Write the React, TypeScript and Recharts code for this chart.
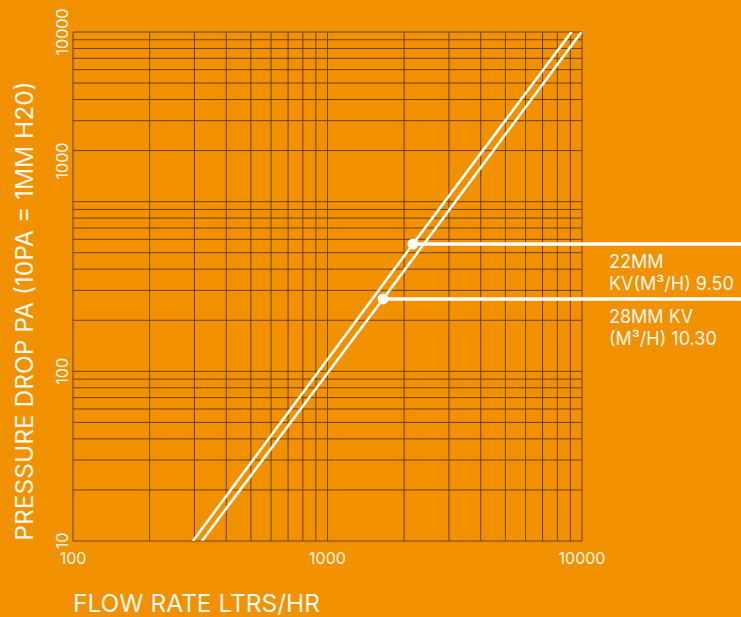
import React from 'react';
import {
  LineChart,
  Line,
  XAxis,
  YAxis,
  CartesianGrid,
  ReferenceDot,
  ReferenceLine,
} from 'recharts';

// ---- data (flow rate L/h vs pressure drop Pa) ----
const flow22 = [296, 2168, 9094];
const drop22 = [10, 563, 10000];
const flow28 = [321, 1653, 9955];
const drop28 = [10, 267, 10000];

const marker22 = { flow: 2168, drop: 563 };
const marker28 = { flow: 1653, drop: 267 };
const calloutEndFlow = 50000;

const label22 = ['22MM', 'KV(M³/H) 9.50'];
const label28 = ['28MM KV', '(M³/H) 10.30'];

const xTicks = [100, 1000, 10000];
const xTickLabels = ['100', '1000', '10000'];
// positions where the reference prints its y labels
const yTicks = [10, 100, 1737, 10000];
const yTickLabels = ['10', '100', '1000', '10000'];

const xGrid = [
  100, 200, 300, 400, 500, 600, 700, 800, 900,
  1000, 2000, 3000, 4000, 5000, 6000, 7000, 8000, 9000, 10000,
];
const yGrid = [
  10, 20, 30, 40, 50, 60, 70, 80, 90,
  100, 200, 300, 400, 500, 600, 700, 800, 900,
  1000, 2000, 3000, 4000, 5000, 6000, 7000, 8000, 9000, 10000,
];

const xTitle = 'FLOW RATE LTRS/HR';
const yTitle = 'PRESSURE DROP PA (10PA = 1MM H20)';

const series22 = flow22.map((f, i) => ({ flow: f, drop: drop22[i] }));
const series28 = flow28.map((f, i) => ({ flow: f, drop: drop28[i] }));

const BG = '#F29100';
const TEXT = '#FFF8EC';
const GRID = '#6a4100';
const FONT = 'Inter, Roboto, "Noto Sans", sans-serif';

const XTick = (props: any) => {
  const { x, y, payload } = props;
  const idx = xTicks.indexOf(payload.value);
  return (
    <text x={x} y={y + 23} textAnchor="middle" fill={TEXT} fontSize={16} fontFamily={FONT}>
      {idx >= 0 ? xTickLabels[idx] : payload.value}
    </text>
  );
};

const YTick = (props: any) => {
  const { x, y, payload } = props;
  const idx = yTicks.indexOf(payload.value);
  return (
    <text
      x={x}
      y={y}
      transform={`rotate(-90 ${x} ${y})`}
      textAnchor="middle"
      fill={TEXT}
      fontSize={16}
      fontFamily={FONT}
    >
      {idx >= 0 ? yTickLabels[idx] : payload.value}
    </text>
  );
};

export default function App() {
  return (
    <div
      style={{
        position: 'absolute',
        left: 0,
        top: 0,
        width: 741,
        height: 617,
        background: BG,
        overflow: 'hidden',
      }}
    >
      <LineChart
        width={741}
        height={617}
        margin={{ top: 32, right: 159, bottom: 46, left: 33 }}
      >
        <CartesianGrid
          stroke={GRID}
          strokeWidth={1}
          horizontalValues={yGrid}
          verticalValues={xGrid}
        />
        <XAxis
          type="number"
          dataKey="flow"
          scale="log"
          domain={[100, 10000]}
          allowDataOverflow
          ticks={xTicks}
          tick={<XTick />}
          axisLine={false}
          tickLine={false}
          tickSize={0}
          tickMargin={0}
          height={30}
          interval={0}
        />
        <YAxis
          type="number"
          dataKey="drop"
          scale="log"
          domain={[10, 10000]}
          allowDataOverflow
          ticks={yTicks}
          tick={<YTick />}
          axisLine={false}
          tickLine={false}
          tickSize={0}
          tickMargin={5}
          width={40}
          interval={0}
        />
        <Line
          data={series22}
          dataKey="drop"
          stroke="#ffffff"
          strokeWidth={2.6}
          dot={false}
          isAnimationActive={false}
          type="linear"
        />
        <Line
          data={series28}
          dataKey="drop"
          stroke="#ffffff"
          strokeWidth={2.6}
          dot={false}
          isAnimationActive={false}
          type="linear"
        />
        <ReferenceLine
          segment={[
            { x: marker22.flow, y: marker22.drop },
            { x: calloutEndFlow, y: marker22.drop },
          ]}
          stroke="#ffffff"
          strokeWidth={3.5}
          ifOverflow="visible"
        />
        <ReferenceLine
          segment={[
            { x: marker28.flow, y: marker28.drop },
            { x: calloutEndFlow, y: marker28.drop },
          ]}
          stroke="#ffffff"
          strokeWidth={3.5}
          ifOverflow="visible"
        />
        <ReferenceDot
          x={marker22.flow}
          y={marker22.drop}
          r={5.5}
          fill="#ffffff"
          stroke="none"
          ifOverflow="visible"
        />
        <ReferenceDot
          x={marker28.flow}
          y={marker28.drop}
          r={5.5}
          fill="#ffffff"
          stroke="none"
          ifOverflow="visible"
        />
      </LineChart>
      <svg
        width={741}
        height={617}
        style={{ position: 'absolute', left: 0, top: 0, pointerEvents: 'none' }}
      >
        <text x={73} y={612} fill={TEXT} fontSize={24.5} fontFamily={FONT}>
          {xTitle}
        </text>
        <text
          x={33}
          y={311}
          transform="rotate(-90 33 311)"
          textAnchor="middle"
          fill={TEXT}
          fontSize={24.5}
          fontFamily={FONT}
        >
          {yTitle}
        </text>
        <text x={609} y={268} fill={TEXT} fontSize={18} fontFamily={FONT}>
          {label22[0]}
        </text>
        <text x={609} y={290} fill={TEXT} fontSize={18} fontFamily={FONT}>
          {label22[1]}
        </text>
        <text x={609} y={323} fill={TEXT} fontSize={18} fontFamily={FONT}>
          {label28[0]}
        </text>
        <text x={609} y={345} fill={TEXT} fontSize={18} fontFamily={FONT}>
          {label28[1]}
        </text>
      </svg>
    </div>
  );
}
